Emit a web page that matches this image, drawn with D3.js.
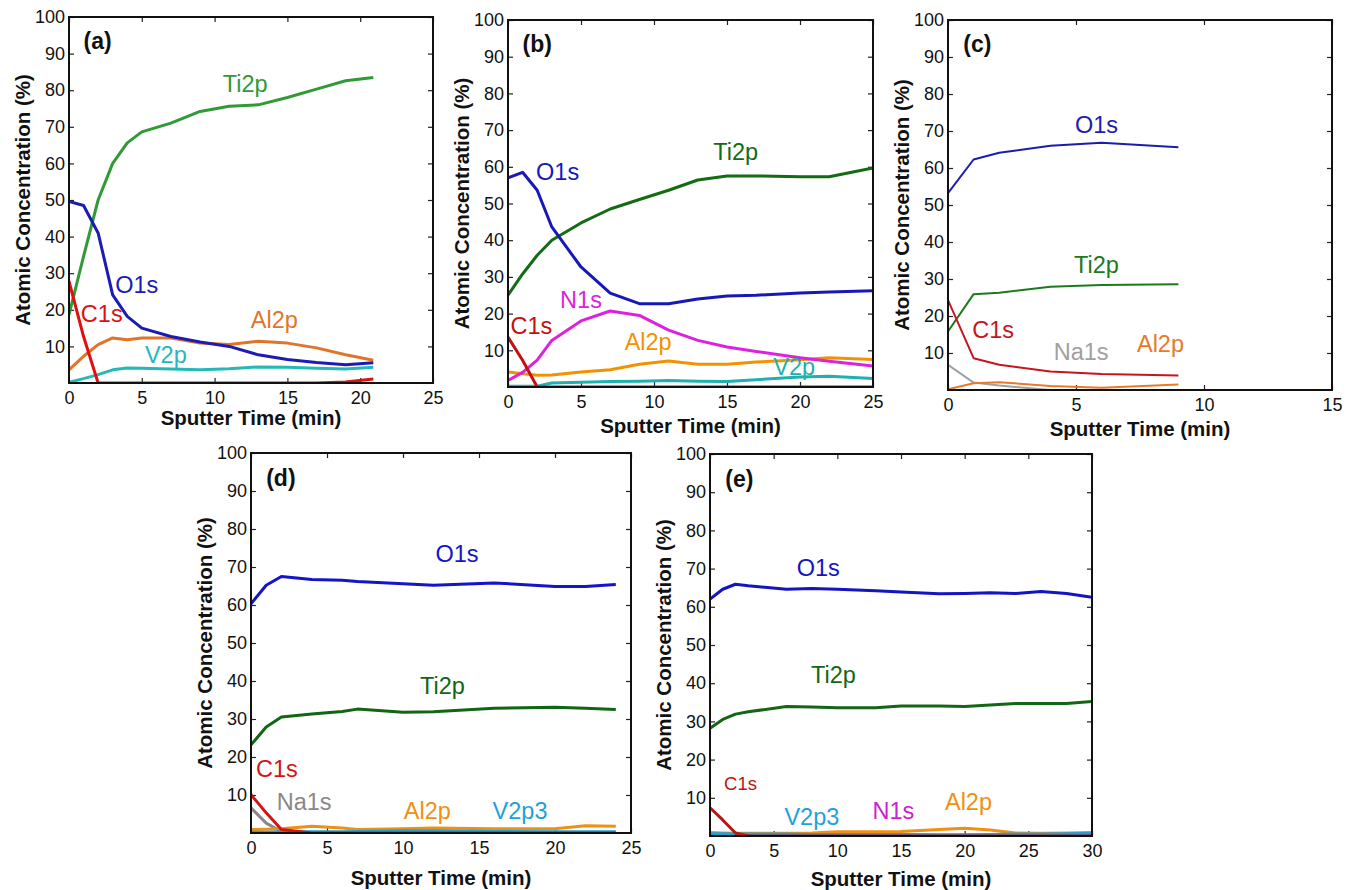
<!DOCTYPE html>
<html>
<head>
<meta charset="utf-8">
<script src="https://cdn.jsdelivr.net/npm/d3@7"></script>
<style>
  body { margin: 0; background: #fff; }
  svg { display: block; font-family: "Liberation Sans", Arial, sans-serif; }
  .tick-label { font-size: 18px; fill: #111; }
  .axis-title { font-size: 20.5px; font-weight: bold; fill: #111; }
  .panel-tag { font-size: 23px; font-weight: bold; fill: #111; }
</style>
</head>
<body>
<svg id="chart" width="1349" height="890"></svg>
<script>
// ---- data (min, at. %) ----
const timeA = [0, 1, 2, 3, 4, 5, 7, 9, 11, 13, 15, 17, 19, 20.9]
const ti2pA = [18.7, 34.6, 50, 60, 65.6, 68.6, 71, 74.2, 75.6, 76, 78, 80.3, 82.6, 83.5]
const o1sA  = [49.6, 48.5, 41, 24.1, 18.2, 15, 12.7, 11.2, 10, 7.7, 6.4, 5.6, 5, 5.5]
const c1sA  = [27.8, 12.7, 0, 0, 0, 0, 0, 0, 0, 0, 0, 0, 0.3, 1.1]
const al2pA = [3.6, 7.3, 10.5, 12.3, 11.8, 12.3, 12.3, 10.9, 10.5, 11.4, 10.9, 9.6, 7.7, 6.2]
const v2pA  = [0.2, 1.2, 2.3, 3.6, 4.1, 4.0, 3.8, 3.6, 3.9, 4.4, 4.3, 4.0, 3.8, 4.3]

const timeB = [0, 1, 2, 3, 5, 7, 9, 11, 13, 15, 17, 20, 22, 25]
const o1sB  = [57, 58.5, 53.6, 43.6, 32.7, 25.6, 22.7, 22.7, 24.0, 24.8, 25.0, 25.6, 25.9, 26.2]
const ti2pB = [25, 30.8, 35.9, 40, 44.7, 48.5, 51.1, 53.6, 56.4, 57.5, 57.5, 57.3, 57.3, 59.7]
const n1sB  = [1.8, 4, 7.3, 12.7, 18, 20.7, 19.5, 15.5, 12.7, 10.9, 9.7, 8, 7, 5.7]
const c1sB  = [13.6, 7.3, 0, 0, 0, 0, 0, 0, 0, 0, 0, 0, 0, 0]
const al2pB = [4.1, 3.6, 3.2, 3.3, 4.1, 4.7, 6.2, 7.1, 6.2, 6.2, 6.8, 7.4, 8, 7.5]
const v2pB  = [0.2, 0.2, 0.2, 1.1, 1.3, 1.5, 1.6, 1.8, 1.6, 1.5, 2.0, 2.7, 2.9, 2.3]

const timeC = [0, 1, 2, 4, 6, 9]
const o1sC  = [53.2, 62.3, 64.1, 66, 66.8, 65.6]
const ti2pC = [15.8, 25.9, 26.3, 27.9, 28.4, 28.6]
const c1sC  = [24.3, 8.6, 6.8, 5.0, 4.3, 3.9]
const na1sC = [6.8, 2, 1.2, 0, 0, 0]
const al2pC = [0.2, 1.8, 2.1, 1.1, 0.6, 1.5]

const timeD = [0, 1, 2, 4, 6, 7, 10, 12, 16, 20, 22, 24]
const o1sD  = [60.3, 65.2, 67.5, 66.7, 66.5, 66.2, 65.6, 65.2, 65.8, 64.9, 64.9, 65.4]
const ti2pD = [23.2, 27.9, 30.5, 31.3, 32.0, 32.6, 31.8, 31.9, 32.8, 33.1, 32.8, 32.5]
const c1sD  = [10.1, 5.3, 0.9, 0, 0, 0, 0, 0, 0, 0, 0, 0]
const na1sD = [6.6, 2.6, 0.4, 0, 0, 0, 0, 0, 0, 0, 0, 0]
const al2pD = [0.9, 1.0, 1.1, 1.8, 1.3, 0.9, 1.1, 1.3, 1.1, 1.1, 1.9, 1.8]
const v2p3D = [0.2, 0.2, 0.3, 0.3, 0.3, 0.4, 0.6, 0.6, 0.4, 0.3, 0.3, 0.3]

const timeE = [0, 1, 2, 3, 6, 8, 10, 13, 15, 18, 20, 22, 24, 26, 28, 30]
const o1sE  = [62, 64.6, 65.9, 65.5, 64.6, 64.8, 64.6, 64.2, 63.9, 63.4, 63.5, 63.7, 63.5, 64, 63.5, 62.5]
const ti2pE = [28.2, 30.5, 31.9, 32.5, 33.9, 33.8, 33.6, 33.6, 34, 34, 33.9, 34.3, 34.7, 34.7, 34.7, 35.2]
const c1sE  = [7.4, 4.2, 0.8, 0, 0, 0, 0, 0, 0, 0, 0, 0, 0, 0, 0, 0]
const al2pE = [0.9, 0.8, 0.7, 0.7, 0.7, 0.8, 1.1, 1.1, 1.2, 1.7, 2.0, 1.6, 0.8, 0.7, 0.8, 0.9]
const v2p3E = [0.6, 0.6, 0.5, 0.5, 0.5, 0.4, 0.4, 0.4, 0.4, 0.3, 0.3, 0.4, 0.5, 0.5, 0.6, 0.7]
const n1sE  = [0.2, 0.2, 0.2, 0.2, 0.2, 0.2, 0.2, 0.2, 0.2, 0.2, 0.2, 0.2, 0.2, 0.2, 0.2, 0.2]

const yTicks = [10, 20, 30, 40, 50, 60, 70, 80, 90, 100]
const Y_TITLE = 'Atomic Concentration (%)'
const X_TITLE = 'Sputter Time (min)'

// ---- panels: box in page pixels, x range, series ----
const panels = [
  {
    tag: '(a)', box: {left: 69, right: 433, top: 17, bottom: 383}, xMax: 25, xTitleDy: 42, lw: 3,
    time: timeA,
    series: [
      {name: 'Al2p', values: al2pA, color: '#e0752a', lx: 14.1, ly: 15},
      {name: 'V2p', values: v2pA, color: '#26b8b8', lx: 6.65, ly: 5.5},
      {name: 'Ti2p', values: ti2pA, color: '#2f9a36', lx: 12.1, ly: 79.4},
      {name: 'O1s', values: o1sA, color: '#1c1cb4', lx: 4.65, ly: 24.6},
      {name: 'C1s', values: c1sA, color: '#dd1111', lx: 2.25, ly: 16.8}
    ]
  },
  {
    tag: '(b)', box: {left: 508, right: 873, top: 20, bottom: 387}, xMax: 25, xTitleDy: 46, lw: 3,
    time: timeB,
    series: [
      {name: 'Al2p', values: al2pB, color: '#f39200', lx: 9.6, ly: 10},
      {name: 'V2p', values: v2pB, color: '#1fb0b0', lx: 19.6, ly: 3.2},
      {name: 'Ti2p', values: ti2pB, color: '#136b13', lx: 15.6, ly: 61.8},
      {name: 'O1s', values: o1sB, color: '#1818b8', lx: 3.4, ly: 56.4},
      {name: 'N1s', values: n1sB, color: '#dd22dd', lx: 5.0, ly: 21.4},
      {name: 'C1s', values: c1sB, color: '#c41010', lx: 1.6, ly: 14.5}
    ]
  },
  {
    tag: '(c)', box: {left: 948, right: 1332, top: 20, bottom: 390}, xMax: 15, xTitleDy: 46, lw: 2,
    time: timeC,
    series: [
      {name: 'Na1s', values: na1sC, color: '#a0a0a0', lx: 5.2, ly: 8.1},
      {name: 'Al2p', values: al2pC, color: '#e87a2a', lx: 8.3, ly: 10.4},
      {name: 'O1s', values: o1sC, color: '#1c1cb0', lx: 5.8, ly: 69.5},
      {name: 'Ti2p', values: ti2pC, color: '#1b7a1b', lx: 5.8, ly: 31.7},
      {name: 'C1s', values: c1sC, color: '#c8141c', lx: 1.76, ly: 14.1}
    ]
  },
  {
    tag: '(d)', box: {left: 251, right: 631, top: 453, bottom: 833}, xMax: 25, xTitleDy: 52, lw: 3,
    time: timeD,
    series: [
      {name: 'Na1s', values: na1sD, color: '#888888', lx: 3.5, ly: 6.1},
      {name: 'Al2p', values: al2pD, color: '#f09010', lx: 11.6, ly: 3.8},
      {name: 'V2p3', values: v2p3D, color: '#1ea0dc', lx: 17.7, ly: 3.8},
      {name: 'O1s', values: o1sD, color: '#1414c8', lx: 13.55, ly: 71.2},
      {name: 'Ti2p', values: ti2pD, color: '#116611', lx: 12.6, ly: 36.7},
      {name: 'C1s', values: c1sD, color: '#d41414', lx: 1.7, ly: 14.7}
    ]
  },
  {
    tag: '(e)', box: {left: 710, right: 1092, top: 454, bottom: 836}, xMax: 30, xTitleDy: 50, lw: 3,
    time: timeE,
    series: [
      {name: 'N1s', values: n1sE, color: '#cc22cc', lx: 14.4, ly: 4.5},
      {name: 'Al2p', values: al2pE, color: '#f09010', lx: 20.3, ly: 6.8},
      {name: 'V2p3', values: v2p3E, color: '#1ea0dc', lx: 8.0, ly: 2.9},
      {name: 'O1s', values: o1sE, color: '#1414c0', lx: 8.5, ly: 68},
      {name: 'Ti2p', values: ti2pE, color: '#146614', lx: 9.7, ly: 40},
      {name: 'C1s', values: c1sE, color: '#bb1515', lx: 2.4, ly: 12, small: true}
    ]
  }
]

const $svg = d3.select('#chart')
const TICK = 5

function drawPanel(p){
  const {left, right, top, bottom} = p.box
  const w = right - left, h = bottom - top

  const xScale = d3.scaleLinear().domain([0, p.xMax]).range([0, w])
  const yScale = d3.scaleLinear().domain([0, 100]).range([h, 0])
  const xTicks = d3.range(0, p.xMax + 0.01, 5)

  const $g = $svg.append('g')
    .attr('transform', `translate(${left}, ${top})`)

  // ticks inward on all four sides
  const $bottom = $g.append('g').attr('transform', `translate(0, ${h})`)
    .call(d3.axisBottom(xScale).tickValues(xTicks).tickSize(-TICK).tickPadding(6).tickFormat(d3.format('d')))
  const $top = $g.append('g')
    .call(d3.axisTop(xScale).tickValues(xTicks).tickSize(-TICK).tickFormat(''))
  const $leftAx = $g.append('g')
    .call(d3.axisLeft(yScale).tickValues(yTicks).tickSize(-TICK).tickPadding(4).tickFormat(d3.format('d')))
  const $rightAx = $g.append('g').attr('transform', `translate(${w}, 0)`)
    .call(d3.axisRight(yScale).tickValues(yTicks).tickSize(-TICK).tickFormat(''))

  ;[$bottom, $top, $leftAx, $rightAx].forEach($a => {
    $a.select('.domain').remove()
    $a.selectAll('.tick line').attr('stroke', '#222').attr('stroke-width', 1.2)
    $a.selectAll('.tick text').attr('class', 'tick-label')
      .attr('font-family', null).attr('font-size', null)
  })
  $bottom.selectAll('.tick text').attr('dy', '0.85em')

  // lines
  const clipId = 'clip-' + p.tag.replace(/\W/g, '')
  $g.append('clipPath').attr('id', clipId)
    .append('rect').attr('x', 0).attr('y', -2).attr('width', w).attr('height', h + 2)

  const lineGen = d3.line()
    .x(d => xScale(d[0]))
    .y(d => yScale(d[1]))

  const $lines = $g.append('g').attr('clip-path', `url(#${clipId})`)
  $lines.selectAll('path')
    .data(p.series)
    .join('path')
      .attr('fill', 'none')
      .attr('stroke', d => d.color)
      .attr('stroke-width', p.lw)
      .attr('stroke-linejoin', 'round')
      .attr('d', d => lineGen(p.time.map((t, i) => [t, d.values[i]])))

  // frame
  $g.append('rect')
    .attr('width', w).attr('height', h)
    .attr('fill', 'none').attr('stroke', '#111').attr('stroke-width', 2)

  // series labels
  $g.selectAll('.series-label')
    .data(p.series)
    .join('text')
      .attr('class', 'series-label')
      .attr('x', d => xScale(d.lx))
      .attr('y', d => yScale(d.ly))
      .attr('text-anchor', 'middle')
      .attr('font-size', d => d.small ? 18.5 : 23.5)
      .attr('fill', d => d.color)
      .text(d => d.name)

  // panel tag
  $g.append('text')
    .attr('class', 'panel-tag')
    .attr('x', xScale(p.xMax * 0.04))
    .attr('y', yScale(91.3))
    .text(p.tag)

  // axis titles
  $g.append('text')
    .attr('class', 'axis-title')
    .attr('text-anchor', 'middle')
    .attr('x', w / 2)
    .attr('y', h + p.xTitleDy)
    .text(X_TITLE)
  $g.append('text')
    .attr('class', 'axis-title')
    .attr('text-anchor', 'middle')
    .attr('transform', `translate(-39, ${h / 2}) rotate(-90)`)
    .text(Y_TITLE)
}

panels.forEach(drawPanel)
</script>
</body>
</html>
